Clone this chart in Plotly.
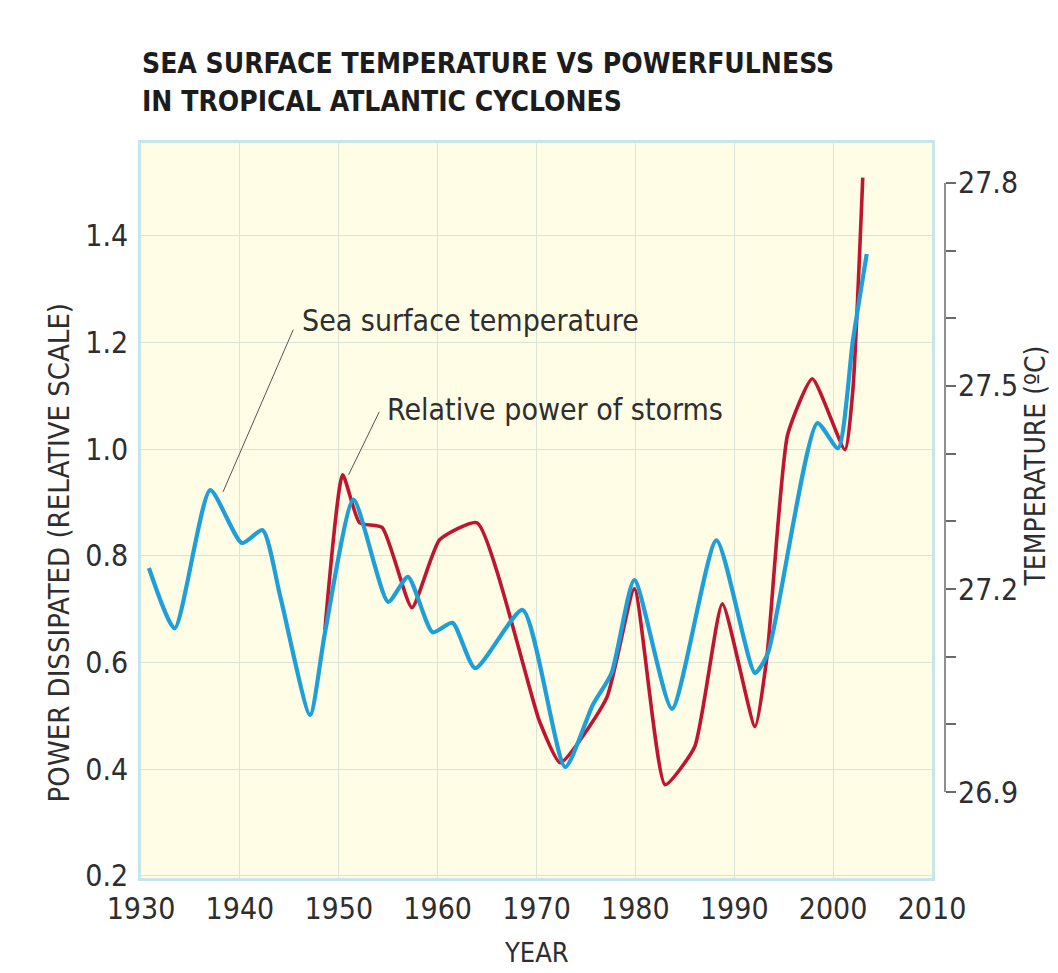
import plotly.graph_objects as go

# ---------------- data ----------------
sst_years = [1930.8, 1933.4, 1937.0, 1940.2, 1942.3, 1944.1, 1947.1, 1948.6, 1951.5,
             1955.0, 1957.0, 1959.5, 1961.5, 1963.8, 1968.6, 1972.9, 1975.7, 1977.6,
             1979.9, 1983.7, 1988.2, 1992.1, 1993.4, 1998.4, 2000.5, 2002.0, 2003.4]
sst_temp = [27.231, 27.142, 27.346, 27.268, 27.287, 27.188, 27.014, 27.135, 27.332,
            27.181, 27.218, 27.136, 27.150, 27.083, 27.169, 26.937, 27.029, 27.076,
            27.213, 27.023, 27.272, 27.076, 27.105, 27.445, 27.408, 27.567, 27.695]

power_years = [1948.6, 1950.4, 1952.1, 1954.4, 1957.4, 1960.2, 1964.0, 1970.3, 1972.4,
               1977.1, 1979.9, 1983.0, 1986.0, 1988.8, 1992.1, 1993.3, 1995.4, 1997.9,
               2001.2, 2002.0, 2003.0]
power_vals = [0.661, 0.952, 0.862, 0.853, 0.703, 0.830, 0.862, 0.490, 0.412,
              0.534, 0.738, 0.371, 0.442, 0.710, 0.480, 0.609, 1.027, 1.132,
              0.999, 1.111, 1.509]

x_ticks = [1930, 1940, 1950, 1960, 1970, 1980, 1990, 2000, 2010]
left_ticks = [0.2, 0.4, 0.6, 0.8, 1.0, 1.2, 1.4]
left_labels = ["0.2", "0.4", "0.6", "0.8", "1.0", "1.2", "1.4"]
right_ticks = [26.9, 27.0, 27.1, 27.2, 27.3, 27.4, 27.5, 27.6, 27.7, 27.8]
right_labels = ["26.9", "", "", "27.2", "", "", "27.5", "", "", "27.8"]

title_lines = ["SEA SURFACE TEMPERATURE VS POWERFULNESS", "IN TROPICAL ATLANTIC CYCLONES"]
label_sst = "Sea surface temperature"
label_power = "Relative power of storms"

# ---------------- style ----------------
NARROW = "Liberation Sans Narrow, DejaVu Sans Condensed, Arial Narrow, sans-serif"
TXT = "#2e2e2e"
BLUE = "#1f9fd8"
RED = "#c01530"
GRID = "#dbe4d9"
BORDER = "#c6e6ea"

fig = go.Figure()

fig.add_trace(go.Scatter(
    x=power_years, y=power_vals, mode="lines", yaxis="y",
    line=dict(color=RED, width=3.6, shape="spline", smoothing=0.5),
    hoverinfo="skip", showlegend=False))

fig.add_trace(go.Scatter(
    x=sst_years, y=sst_temp, mode="lines", yaxis="y2",
    line=dict(color=BLUE, width=4.2, shape="spline", smoothing=0.6),
    hoverinfo="skip", showlegend=False))

fig.update_layout(
    width=1058, height=973,
    margin=dict(l=141, r=113, t=143, b=95),
    paper_bgcolor="white",
    plot_bgcolor="#fffde6",
    font=dict(family=NARROW, color=TXT),
    xaxis=dict(
        domain=[0, 0.9838], range=[1930, 2010],
        tickvals=x_ticks, ticktext=[str(v) for v in x_ticks],
        showgrid=True, gridcolor=GRID, gridwidth=1,
        showline=True, linecolor=BORDER, linewidth=2.5, mirror=True,
        ticks="", tickfont=dict(size=30, color=TXT), ticklabelstandoff=2,
        zeroline=False,
    ),
    yaxis=dict(
        range=[0.196, 1.574],
        tickvals=left_ticks, ticktext=left_labels,
        showgrid=True, gridcolor=GRID, gridwidth=1,
        showline=True, linecolor=BORDER, linewidth=2.5, mirror=True,
        ticks="", tickfont=dict(size=30, color=TXT), ticklabelstandoff=4,
        zeroline=False,
    ),
    yaxis2=dict(
        overlaying="y", side="right", anchor="free", position=1.0,
        range=[26.773, 27.859],
        tickvals=right_ticks, ticktext=right_labels,
        showgrid=False, showline=False, zeroline=False,
        ticks="outside", ticklen=10, tickwidth=1.5, tickcolor="#6a6a6a",
        tickfont=dict(size=30, color=TXT), ticklabelstandoff=-4,
    ),
)

# right axis spine only between 26.9 and 27.8
fig.add_shape(type="line", xref="paper", yref="y2", x0=1, x1=1,
              y0=right_ticks[0], y1=right_ticks[-1],
              line=dict(color="#6a6a6a", width=1.5))

# leader lines
fig.add_shape(type="line", xref="x", yref="y", x0=1945.4, y0=1.224, x1=1938.3, y1=0.920,
              line=dict(color="#555555", width=1))
fig.add_shape(type="line", xref="x", yref="y", x0=1954.1, y0=1.070, x1=1951.0, y1=0.952,
              line=dict(color="#555555", width=1))

annots = [
    dict(text="<b>%s</b>" % title_lines[0], xref="paper", yref="paper", x=-0.0012, y=1.1088,
         xanchor="left", yanchor="middle", showarrow=False,
         font=dict(size=28, color="#1c1c1c", family=NARROW)),
    dict(text="<b>%s</b>" % title_lines[1], xref="paper", yref="paper", x=-0.0012, y=1.0558,
         xanchor="left", yanchor="middle", showarrow=False,
         font=dict(size=28, color="#1c1c1c", family=NARROW)),
    dict(text=label_sst, xref="x", yref="y", x=1946.1, y=1.242,
         xanchor="left", yanchor="middle", showarrow=False,
         font=dict(size=30, color=TXT)),
    dict(text=label_power, xref="x", yref="y", x=1954.7, y=1.075,
         xanchor="left", yanchor="middle", showarrow=False,
         font=dict(size=30, color=TXT)),
    dict(text="POWER DISSIPATED (RELATIVE SCALE)", xref="paper", yref="paper",
         x=-0.102, y=0.443, textangle=-90, xanchor="center", yanchor="middle",
         showarrow=False, font=dict(size=29, color=TXT)),
    dict(text="TEMPERATURE (ºC)", xref="paper", yref="paper",
         x=1.113, y=0.561, textangle=-90, xanchor="center", yanchor="middle",
         showarrow=False, font=dict(size=28, color=TXT)),
    dict(text="YEAR", xref="paper", yref="paper",
         x=0.492, y=-0.102, xanchor="center", yanchor="middle",
         showarrow=False, font=dict(size=27, color=TXT)),
]
fig.update_layout(annotations=annots)

fig.write_html("out.html",
               config={"displayModeBar": False},
               post_script="document.body.style.margin='0';document.body.style.padding='0';")
